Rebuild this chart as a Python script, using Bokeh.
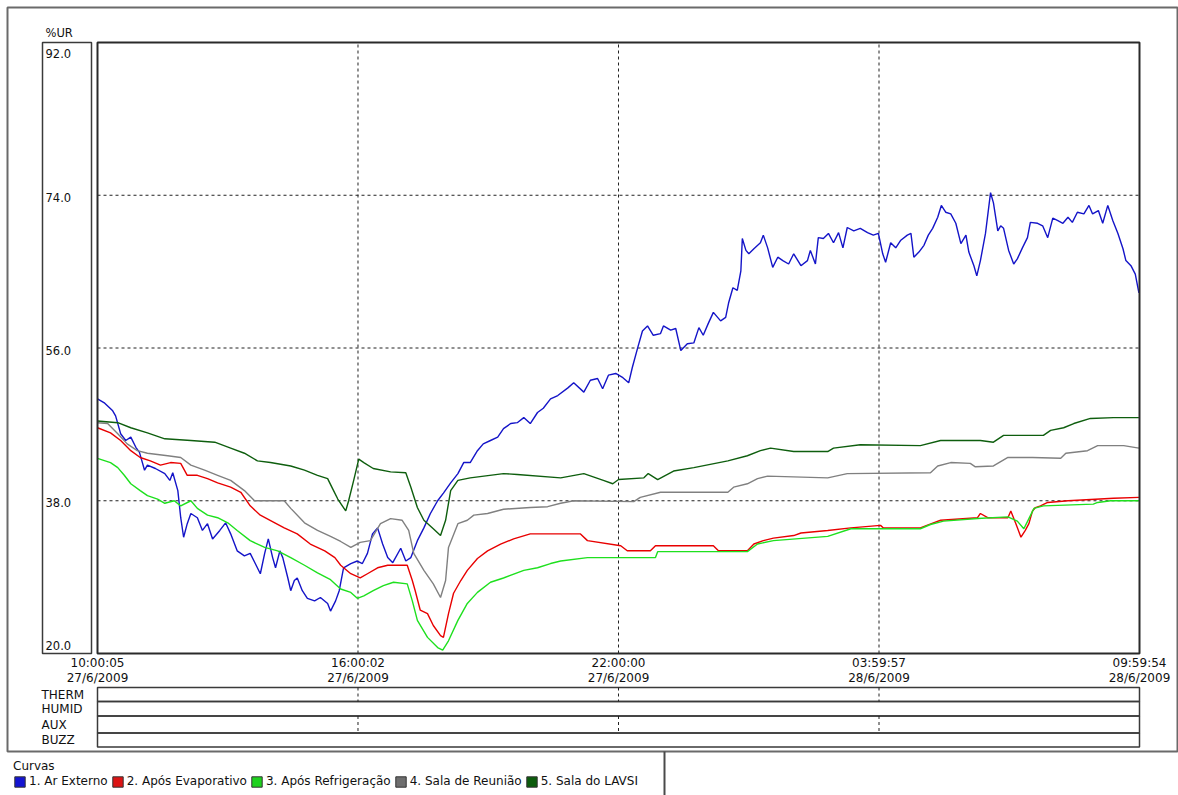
import numpy as np
from bokeh.plotting import figure
from bokeh.models import (Range1d, BoxAnnotation, ColumnDataSource, Legend, LegendItem)
from bokeh.core.properties import value
from bokeh.embed import file_html
from bokeh.resources import INLINE

# ---------------- data ----------------
tick_secs = [0, 21597, 43195, 64792, 86389]
tick_times = ["10:00:05", "16:00:02", "22:00:00", "03:59:57", "09:59:54"]
tick_dates = ["27/6/2009", "27/6/2009", "27/6/2009", "28/6/2009", "28/6/2009"]
y_ticks = [20.0, 38.0, 56.0, 74.0, 92.0]
y_tick_labels = ["20.0", "38.0", "56.0", "74.0", "92.0"]
y_unit = "%UR"
row_names = ["THERM", "HUMID", "AUX", "BUZZ"]
legend_title = "Curvas"
series_names = ["1. Ar Externo", "2. Após Evaporativo", "3. Após Refrigeração",
                "4. Sala de Reunião", "5. Sala do LAVSI"]

# minutes since 10:00:05 27/6/2009, relative humidity (%UR)
ar_externo_min = [0, 10, 21, 25, 32, 39, 46, 53, 58, 65,
                  69, 80, 93, 100, 104, 111, 115, 119, 124, 129,
                  138, 145, 152, 159, 169, 177, 184, 193, 203, 211,
                  218, 225, 231, 236, 242, 246, 252, 256, 263, 267,
                  272, 276, 283, 290, 300, 308, 318, 322, 329, 334,
                  340, 350, 359, 366, 373, 380, 387, 394, 401, 408,
                  419, 426, 433, 442, 451, 460, 470, 478, 488, 498,
                  506, 515, 525, 533, 543, 553, 561, 571, 580, 589,
                  598, 608, 616, 626, 636, 650, 658, 672, 681, 691,
                  698, 706, 716, 726, 734, 739, 746, 753, 760, 768,
                  778, 782, 792, 799, 806, 815, 824, 831, 837, 844,
                  851, 861, 868, 872, 878, 884, 889, 891, 896, 900,
                  907, 916, 920, 926, 933, 940, 947, 955, 962, 972,
                  981, 985, 992, 996, 1003, 1010, 1017, 1024, 1030, 1036,
                  1045, 1054, 1064, 1072, 1079, 1085, 1089, 1096, 1103, 1110,
                  1119, 1124, 1128, 1135, 1142, 1148, 1154, 1161, 1166, 1172,
                  1179, 1186, 1193, 1200, 1204, 1211, 1215, 1220, 1227, 1234,
                  1238, 1244, 1248, 1252, 1259, 1266, 1271, 1278, 1285, 1289,
                  1299, 1306, 1313, 1320, 1327, 1334, 1341, 1347, 1354, 1363,
                  1370, 1375, 1383, 1389, 1396, 1403, 1410, 1417, 1421, 1428,
                  1434, 1439]
ar_externo_ur = [50.0, 49.5, 48.6, 48.0, 45.9, 45.1, 45.5, 44.3, 43.7, 41.6,
                 42.2, 41.8, 41.2, 40.4, 41.3, 39.2, 36.0, 33.7, 35.3, 36.5,
                 36.0, 34.5, 35.3, 33.5, 34.5, 35.4, 34.1, 32.1, 31.5, 31.8,
                 30.6, 29.4, 31.8, 33.5, 31.3, 30.1, 32.1, 31.3, 28.9, 27.4,
                 28.6, 28.9, 27.4, 26.5, 26.2, 26.6, 25.9, 25.0, 26.2, 27.4,
                 30.1, 30.6, 30.9, 30.6, 31.8, 34.1, 34.8, 32.9, 31.3, 30.7,
                 32.4, 30.9, 31.3, 33.3, 34.8, 36.5, 38.0, 38.9, 40.1, 41.2,
                 42.5, 42.5, 43.9, 44.7, 45.1, 45.5, 46.5, 47.1, 47.2, 47.8,
                 47.1, 48.4, 48.9, 50.0, 50.4, 51.3, 51.9, 50.8, 52.2, 52.4,
                 51.2, 52.8, 53.0, 52.5, 51.9, 53.7, 55.9, 58.0, 58.6, 57.5,
                 57.7, 58.6, 58.1, 58.3, 55.7, 56.5, 56.6, 58.4, 57.5, 58.9,
                 60.2, 59.2, 59.6, 61.3, 63.1, 62.8, 65.1, 68.9, 67.5, 67.1,
                 67.7, 68.4, 69.3, 67.8, 65.5, 66.7, 66.3, 65.9, 67.1, 65.7,
                 66.3, 67.5, 65.9, 69.0, 68.9, 69.5, 68.4, 69.6, 67.8, 70.2,
                 69.8, 70.1, 69.6, 69.3, 69.5, 67.1, 66.1, 68.4, 67.8, 68.7,
                 69.3, 69.5, 66.7, 67.3, 68.1, 69.3, 70.1, 71.4, 72.8, 72.0,
                 71.8, 70.7, 68.3, 69.3, 67.3, 65.7, 64.5, 66.3, 69.5, 74.3,
                 73.1, 69.8, 70.4, 70.1, 67.5, 65.9, 66.5, 67.8, 69.0, 70.8,
                 70.7, 70.4, 69.0, 71.3, 71.0, 70.7, 71.4, 70.8, 72.0, 71.8,
                 72.8, 71.8, 72.2, 70.7, 72.8, 71.0, 69.5, 67.7, 66.3, 65.7,
                 64.7, 62.5]

evaporativo_min = [0, 18, 32, 46, 59, 73, 87, 101, 115, 124,
                   138, 152, 166, 184, 198, 211, 225, 245, 258, 276,
                   294, 314, 328, 336, 350, 363, 373, 387, 401, 428,
                   435, 439, 446, 456, 464, 474, 478, 485, 492, 502,
                   511, 525, 539, 557, 575, 598, 667, 677, 723, 732,
                   764, 771, 851, 858, 898, 907, 920, 934, 962, 972,
                   1009, 1041, 1082, 1086, 1137, 1155, 1165, 1216, 1220, 1230,
                   1258, 1262, 1269, 1276, 1282, 1287, 1292, 1296, 1303, 1313,
                   1341, 1404, 1439]
evaporativo_ur = [46.6, 46.0, 45.1, 43.9, 43.1, 42.7, 42.2, 42.5, 42.4, 41.0,
                  41.0, 40.6, 40.1, 39.6, 39.0, 37.4, 36.3, 35.4, 34.8, 34.1,
                  32.9, 32.1, 31.3, 30.4, 29.4, 28.9, 29.4, 30.1, 30.4, 30.4,
                  28.6, 27.4, 25.1, 24.7, 23.3, 22.1, 21.9, 24.7, 27.1, 28.6,
                  29.8, 31.2, 32.1, 32.9, 33.5, 34.1, 34.1, 33.3, 32.7, 32.1,
                  32.1, 32.7, 32.7, 32.1, 32.1, 32.9, 33.3, 33.6, 33.9, 34.2,
                  34.5, 34.8, 35.1, 34.8, 34.8, 35.4, 35.7, 36.0, 36.5, 36.0,
                  36.0, 36.8, 35.3, 33.7, 34.5, 35.3, 36.8, 37.2, 37.4, 37.8,
                  38.0, 38.3, 38.4]

refrigeracao_min = [0, 18, 28, 37, 46, 59, 69, 83, 93, 106,
                    115, 129, 138, 152, 166, 180, 193, 211, 231, 249,
                    267, 286, 304, 322, 336, 350, 359, 368, 381, 395,
                    409, 428, 435, 442, 456, 470, 477, 485, 498, 511,
                    525, 543, 561, 589, 608, 626, 640, 677, 771, 774,
                    898, 912, 934, 1009, 1041, 1137, 1151, 1169, 1216, 1258,
                    1271, 1280, 1287, 1294, 1307, 1376, 1382, 1400, 1439]
refrigeracao_ur = [43.0, 42.5, 41.9, 41.0, 40.0, 39.2, 38.6, 38.2, 37.7, 38.0,
                   37.4, 38.0, 37.1, 36.3, 36.0, 35.4, 34.5, 33.3, 32.5, 32.1,
                   31.3, 30.4, 29.5, 28.7, 27.6, 27.2, 26.5, 26.8, 27.4, 28.0,
                   28.4, 28.2, 26.2, 23.9, 21.9, 20.7, 20.4, 21.5, 23.9, 25.9,
                   27.2, 28.4, 28.9, 29.8, 30.1, 30.6, 30.9, 31.3, 31.3, 32.0,
                   32.0, 32.9, 33.3, 33.8, 34.7, 34.7, 35.2, 35.6, 35.9, 36.1,
                   35.6, 34.7, 35.9, 37.1, 37.4, 37.6, 37.8, 38.0, 38.0]

reuniao_min = [0, 14, 28, 41, 55, 69, 97, 115, 129, 148,
               166, 184, 203, 217, 258, 267, 286, 304, 322, 336,
               350, 363, 377, 391, 405, 421, 430, 437, 451, 464,
               474, 481, 485, 498, 511, 520, 539, 561, 598, 622,
               640, 658, 741, 750, 778, 871, 879, 898, 912, 926,
               1009, 1036, 1151, 1161, 1179, 1206, 1213, 1238, 1258, 1292,
               1331, 1338, 1368, 1382, 1418, 1439]
reuniao_ur = [47.2, 47.1, 45.9, 44.7, 43.9, 43.6, 43.3, 43.1, 42.2, 41.6,
              41.0, 40.4, 39.2, 38.0, 38.0, 37.1, 35.4, 34.5, 33.8, 33.2,
              32.5, 33.1, 33.3, 35.3, 35.9, 35.7, 34.5, 31.8, 29.8, 28.2,
              26.6, 28.6, 32.5, 35.3, 35.7, 36.3, 36.5, 37.0, 37.2, 37.3,
              37.7, 38.0, 37.9, 38.4, 39.0, 39.0, 39.6, 40.0, 40.6, 40.9,
              40.7, 41.2, 41.3, 42.1, 42.5, 42.4, 42.0, 42.1, 43.1, 43.1,
              43.0, 43.6, 43.9, 44.5, 44.5, 44.2]

lavsi_min = [0, 28, 46, 69, 93, 129, 162, 184, 203, 221,
             239, 267, 286, 304, 318, 325, 332, 343, 347, 354,
             361, 368, 381, 405, 426, 433, 442, 451, 464, 474,
             481, 488, 498, 515, 561, 580, 640, 672, 699, 712,
             720, 755, 761, 774, 796, 824, 871, 898, 916, 930,
             962, 1009, 1017, 1054, 1137, 1165, 1220, 1238, 1252, 1307,
             1317, 1335, 1349, 1372, 1404, 1439]
lavsi_ur = [47.4, 47.2, 46.6, 46.0, 45.3, 45.1, 44.9, 44.2, 43.6, 42.7,
            42.5, 42.1, 41.6, 41.0, 40.6, 39.4, 38.2, 36.8, 38.0, 40.4,
            42.9, 42.5, 41.8, 41.4, 41.3, 39.6, 37.2, 35.7, 34.7, 33.9,
            35.7, 39.2, 40.4, 40.7, 41.2, 41.1, 40.7, 41.2, 40.4, 40.0,
            40.5, 40.7, 41.2, 40.5, 41.5, 41.9, 42.7, 43.3, 43.9, 44.2,
            43.8, 43.8, 44.2, 44.6, 44.5, 45.1, 45.1, 44.9, 45.7, 45.7,
            46.3, 46.6, 47.1, 47.7, 47.8, 47.8]

series = [(ar_externo_min, ar_externo_ur), (evaporativo_min, evaporativo_ur),
          (refrigeracao_min, refrigeracao_ur), (reuniao_min, reuniao_ur),
          (lavsi_min, lavsi_ur)]
line_colors = ["#1414c8", "#e80000", "#1ee01e", "#808080", "#0e5e0e"]
swatch_colors = ["#1414d2", "#dc1414", "#1ed21e", "#6e6e6e", "#0c5c0c"]

# ---------------- layout (page pixels) ----------------
W, H = 1178, 795
PL, PT, PR, PB = 97, 42, 1139, 653          # plot-area box
XS, XE = tick_secs[0], tick_secs[-1]
YS, YE = y_ticks[0], y_ticks[-1]
KX = (XE - XS) / (PR - PL)
KY = (YE - YS) / (PB - PT)
FONT = value("DejaVu Sans")
TXT = "#111111"


def dx(ix):  # page pixel -> data x
    return XS + (ix - PL) * KX


def dy(iy):  # page pixel -> data y
    return YE - (iy - PT) * KY


p = figure(width=W, height=H,
           min_border_left=0, min_border_right=0, min_border_top=0, min_border_bottom=0,
           x_range=Range1d(dx(0), dx(W)), y_range=Range1d(dy(H), dy(0)),
           x_axis_location=None, y_axis_location=None,
           output_backend="svg", toolbar_location=None,
           background_fill_color="white", border_fill_color="white",
           outline_line_color=None)
p.xgrid.visible = False
p.ygrid.visible = False

# ---- frames / boxes ----
def box(l, t, r, b, color="#333333", width=1.5, level="underlay"):
    p.add_layout(BoxAnnotation(left=dx(l), right=dx(r), top=dy(t), bottom=dy(b),
                               fill_color=None, fill_alpha=0, line_color=color,
                               line_alpha=1.0, line_width=width, level=level))

box(7, 7, 1177, 751, color="#6a6a6a", width=2)     # outer frame
box(42, 42, 91, 653, color="#3a3a3a")              # y label box
row_edges = [687, 701, 715.5, 732.5, 746.5]
for i in range(len(row_names)):
    box(PL, row_edges[i], PR, row_edges[i + 1], color="#3a3a3a", width=1.5)
p.segment(x0=[dx(664)], y0=[dy(751)], x1=[dx(664)], y1=[dy(H)],
          line_color="#4a4a4a", line_width=2)

# ---- dotted grid (from tick values) ----
gx = tick_secs[1:-1]
gy = y_ticks[1:-1]
p.segment(x0=gx, y0=[YS] * len(gx), x1=gx, y1=[YE] * len(gx),
          line_color="#222222", line_dash="3 3", line_width=1)
p.segment(x0=[XS] * len(gy), y0=gy, x1=[XE] * len(gy), y1=gy,
          line_color="#222222", line_dash="3 3", line_width=1)
# continuation in THERM and AUX rows
p.segment(x0=gx + gx, x1=gx + gx,
          y0=[dy(row_edges[0])] * len(gx) + [dy(row_edges[2])] * len(gx),
          y1=[dy(row_edges[1])] * len(gx) + [dy(row_edges[3])] * len(gx),
          line_color="#222222", line_dash="3 3", line_width=1)

# ---- data lines ----
for (mins, vals), col in zip(series, line_colors):
    secs = np.asarray(mins, dtype=float) * 60.0
    p.line(secs, vals, line_color=col, line_width=1.4)

# plot-area outline on top of lines
box(PL, PT, PR, PB, color="#2a2a2a", width=2, level="annotation")

# ---- texts ----
common = dict(text_font=FONT, text_color=TXT, text_baseline="middle")
p.text(x=tick_secs, y=[dy(662)] * len(tick_secs), text=tick_times,
       text_align="center", text_font_size="12px", **common)
p.text(x=tick_secs, y=[dy(677)] * len(tick_secs), text=tick_dates,
       text_align="center", text_font_size="12px", **common)
p.text(x=[dx(45)] * len(y_ticks), y=y_ticks, text=y_tick_labels,
       y_offset=[-8, 2, 2.5, 2, 11], text_align="left", text_font_size="11.5px", **common)
p.text(x=[dx(45)], y=[dy(32)], text=[y_unit], text_align="left",
       text_font_size="11.5px", **common)
p.text(x=[dx(41)] * len(row_names),
       y=[dy((row_edges[i] + row_edges[i + 1]) / 2) for i in range(len(row_names))],
       text=row_names, text_align="left", text_font_size="12px", **common)

# ---- legend with square swatches ----
items = []
for (mins, vals), name, col in zip(series, series_names, swatch_colors):
    secs = np.asarray(mins, dtype=float) * 60.0
    r = p.quad(left=[secs.min()], right=[secs.max()], bottom=[min(vals)], top=[max(vals)],
               fill_color=col, line_color="#333333", line_width=1, visible=False)
    items.append(LegendItem(label=name, renderers=[r]))

legend = Legend(items=items, location=(13, 7), orientation="horizontal",
                title=legend_title, title_text_font="DejaVu Sans",
                title_text_font_size="12px", title_text_font_style="normal",
                title_text_color=TXT, title_standoff=1,
                label_text_font="DejaVu Sans", label_text_font_size="12px",
                label_text_color=TXT, glyph_width=13, glyph_height=13,
                label_standoff=3, spacing=3, label_height=12, padding=0, margin=0,
                border_line_color=None, background_fill_alpha=0)
p.add_layout(legend)

open("out.html", "w").write(file_html(p, INLINE))
